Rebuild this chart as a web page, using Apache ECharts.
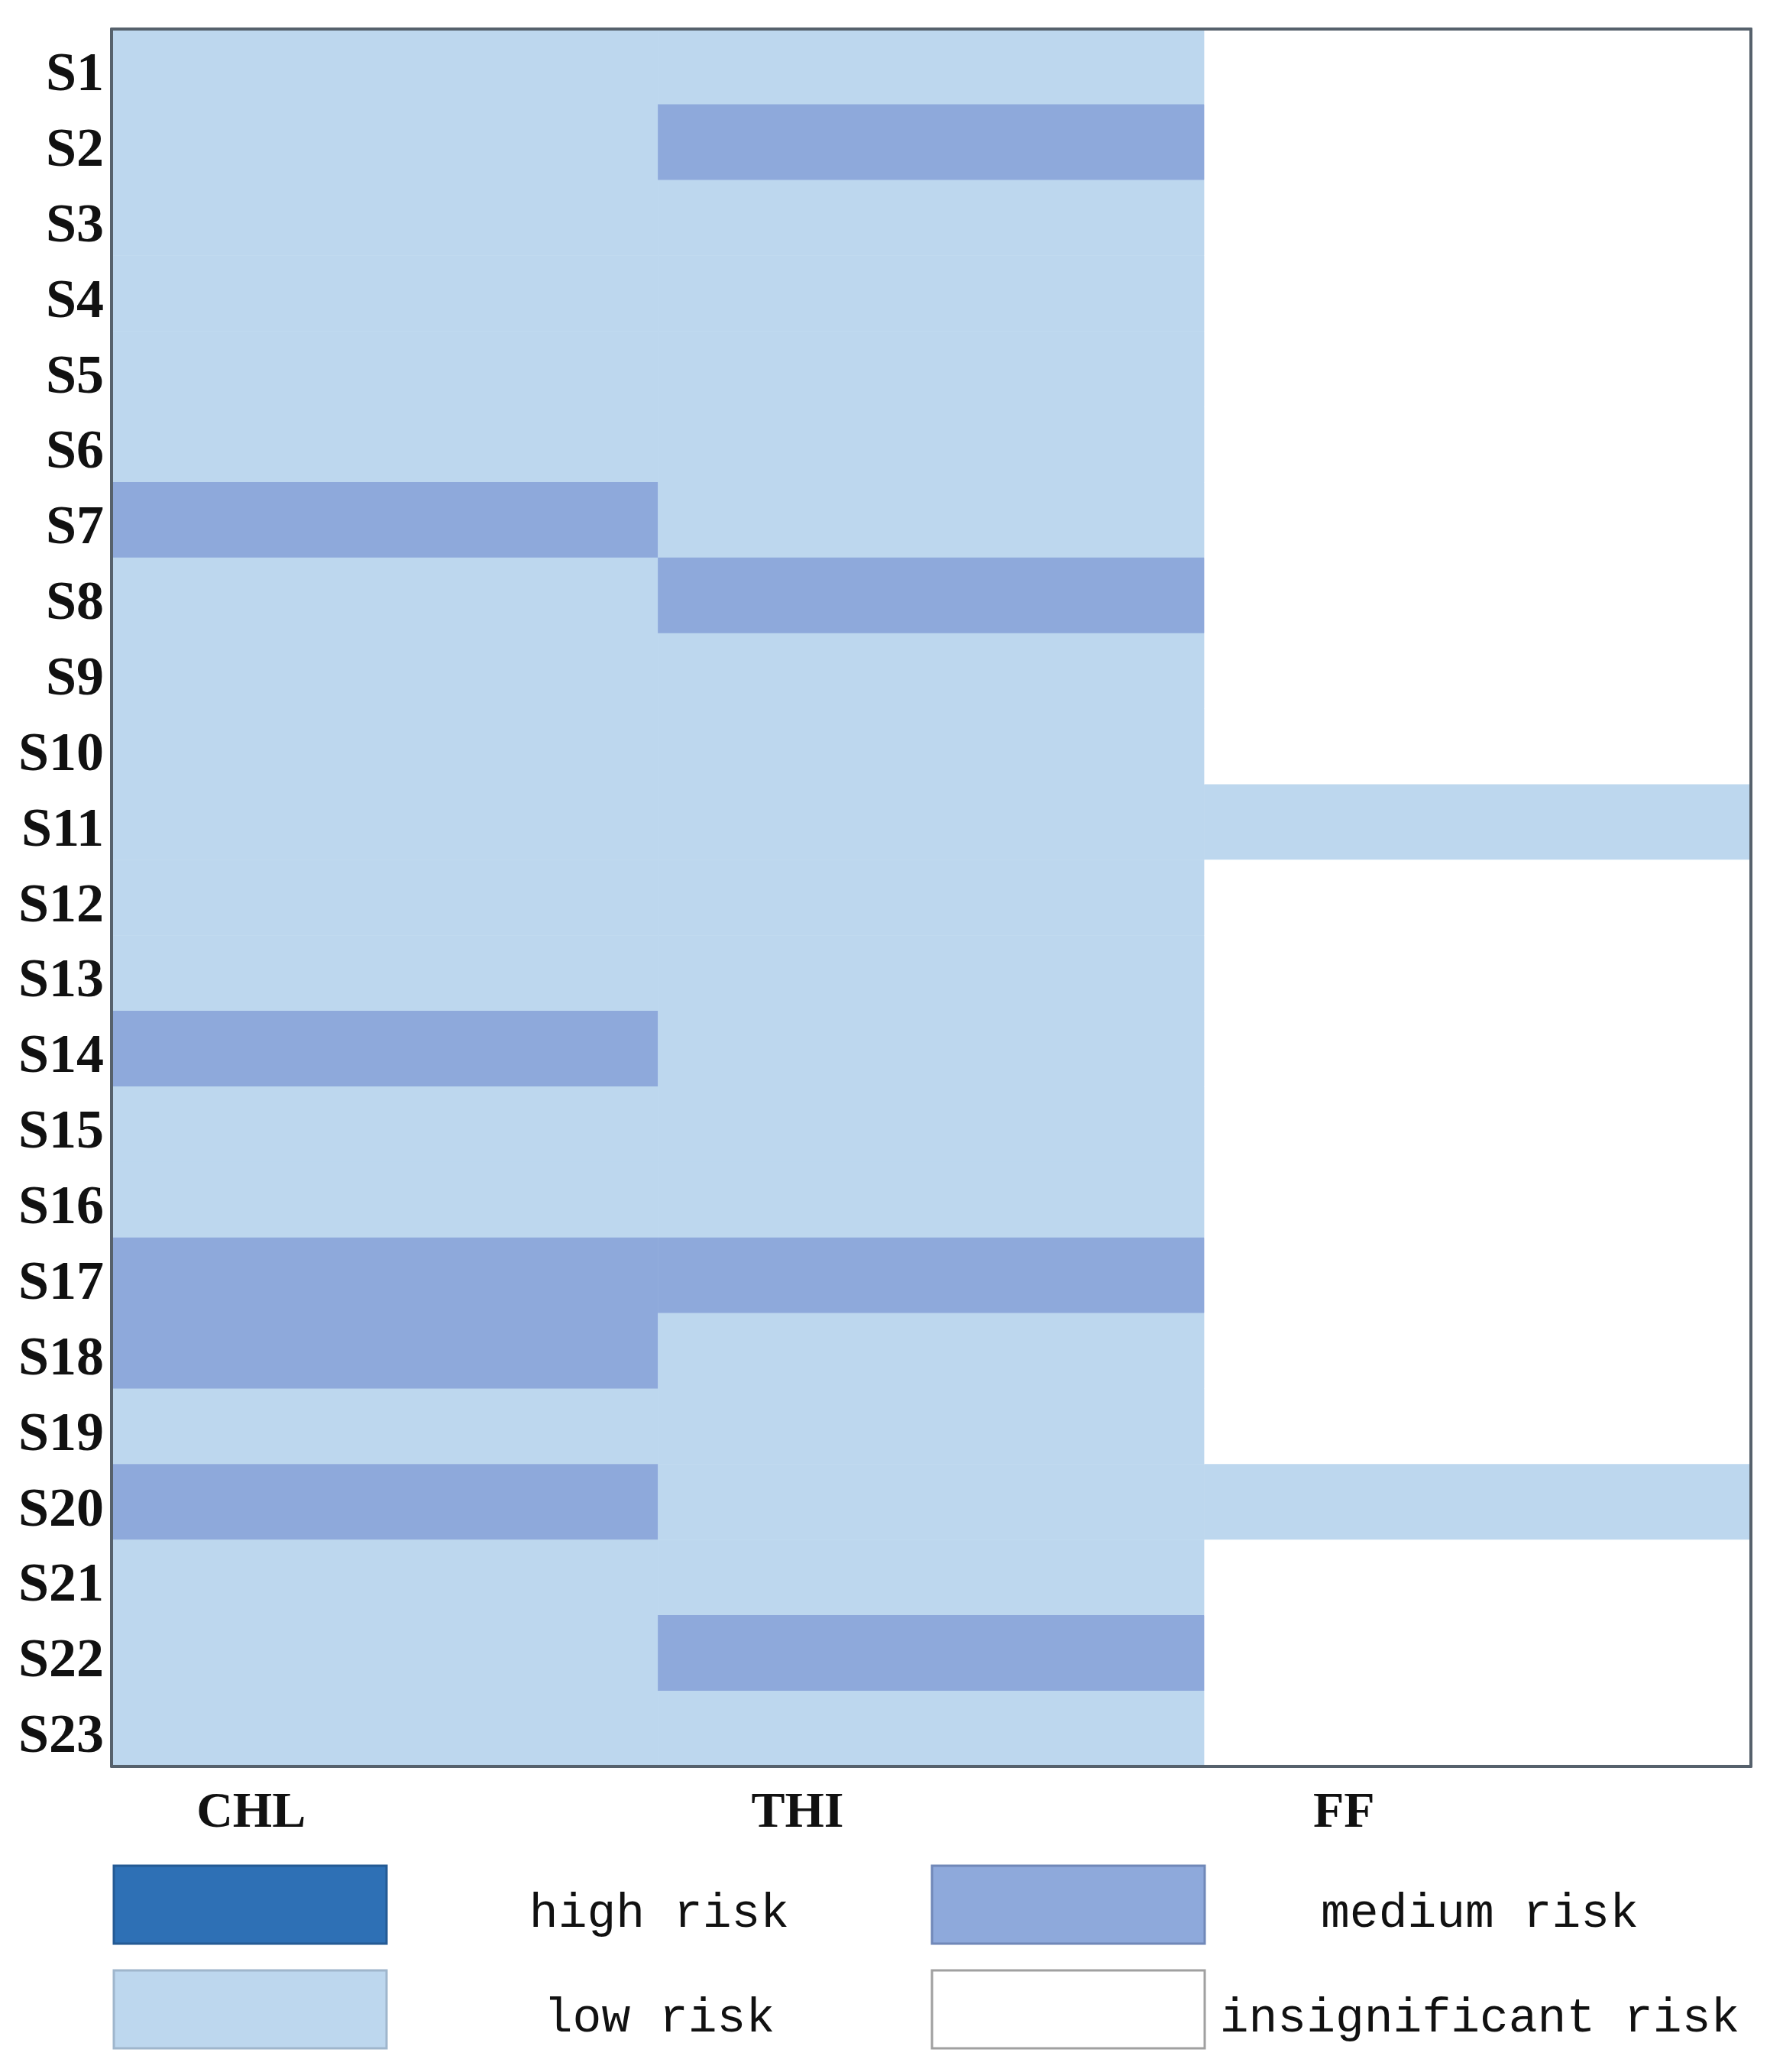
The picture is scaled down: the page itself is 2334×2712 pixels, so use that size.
<!DOCTYPE html>
<html>
<head>
<meta charset="utf-8">
<script src="https://cdn.jsdelivr.net/npm/echarts@6/dist/echarts.min.js"></script>
<style>
html,body{margin:0;padding:0;background:#fff;}
#chart{width:2334px;height:2712px;}
</style>
</head>
<body>
<div id="chart"></div>
<script>
// ---- data ----
const sites = ['S1','S2','S3','S4','S5','S6','S7','S8','S9','S10','S11','S12','S13','S14','S15','S16','S17','S18','S19','S20','S21','S22','S23'];
const indicators = ['CHL','THI','FF'];
// risk level: 0 = insignificant, 1 = low, 2 = medium, 3 = high
const CHL = [1,1,1,1,1,1,2,1,1,1,1,1,1,2,1,1,2,2,1,2,1,1,1];
const THI = [1,2,1,1,1,1,1,2,1,1,1,1,1,1,1,1,2,1,1,1,1,2,1];
const FF  = [0,0,0,0,0,0,0,0,0,0,1,0,0,0,0,0,0,0,0,1,0,0,0];
const levelValues = [3,2,1,0];
const levelNames = ['high risk','medium risk','low risk','insignificant risk'];
const levelColors = {3:'#2E70B5',2:'#8EA9DB',1:'#BDD7EE',0:'#FFFFFF'};
const levelBorders = {3:'#245a94',2:'#7088b8',1:'#9fb6cc',0:'#a0a0a0'};

const columns = [CHL, THI, FF];
const heatData = [];
columns.forEach((col, xi) => col.forEach((v, yi) => heatData.push([xi, yi, v])));

// ---- layout ----
const G = {left:146, top:38, width:2146, height:2274};
const chart = echarts.init(document.getElementById('chart'));

const legendGraphics = [];
const boxX = [149, 1220], boxY = [2442, 2579], boxW = 357, boxH = 102;
const textX = [863, 1937], textY = [2505, 2642];
levelValues.forEach((lv, i) => {
  const c = i % 2, r = Math.floor(i / 2);
  legendGraphics.push({
    type:'rect', shape:{x:boxX[c], y:boxY[r], width:boxW, height:boxH},
    style:{fill:levelColors[lv], stroke:levelBorders[lv], lineWidth:3}
  });
  legendGraphics.push({
    type:'text', x:textX[c], y:textY[r],
    style:{text:levelNames[i], fill:'#111', font:'63px "Liberation Mono"', textAlign:'center', textVerticalAlign:'middle'}
  });
});

const axisLineStyle = {show:true, lineStyle:{color:'#56616c', width:4}};
chart.setOption({
  animation:false,
  backgroundColor:'#fff',
  grid:{left:G.left, top:G.top, width:G.width, height:G.height, show:false},
  xAxis:[{
    type:'category', data:indicators, position:'bottom', z:10,
    axisLine:axisLineStyle, axisTick:{show:false}, splitLine:{show:false},
    axisLabel:{fontFamily:'Liberation Serif', fontWeight:'bold', fontSize:66, color:'#111', margin:29, padding:[0,350,0,0]}
  },{
    type:'category', data:indicators, position:'top', z:10,
    axisLine:axisLineStyle, axisTick:{show:false}, axisLabel:{show:false}
  }],
  yAxis:[{
    type:'category', data:sites, inverse:true, position:'left', z:10,
    axisLine:axisLineStyle, axisTick:{show:false}, splitLine:{show:false},
    axisLabel:{
      margin:10, formatter:'{a|{value}}',
      rich:{a:{fontFamily:'Liberation Serif', fontWeight:'bold', fontSize:72, color:'#111', padding:[24,0,0,0]}}
    }
  },{
    type:'category', data:sites, inverse:true, position:'right', z:10,
    axisLine:axisLineStyle, axisTick:{show:false}, axisLabel:{show:false}
  }],
  visualMap:{
    type:'piecewise', show:false, dimension:2, seriesIndex:0,
    pieces:levelValues.map(v => ({value:v, color:levelColors[v]}))
  },
  series:[{
    type:'heatmap', data:heatData, xAxisIndex:0, yAxisIndex:0,
    itemStyle:{borderWidth:0}, emphasis:{disabled:true}
  }],
  graphic:legendGraphics
});
</script>
</body>
</html>
